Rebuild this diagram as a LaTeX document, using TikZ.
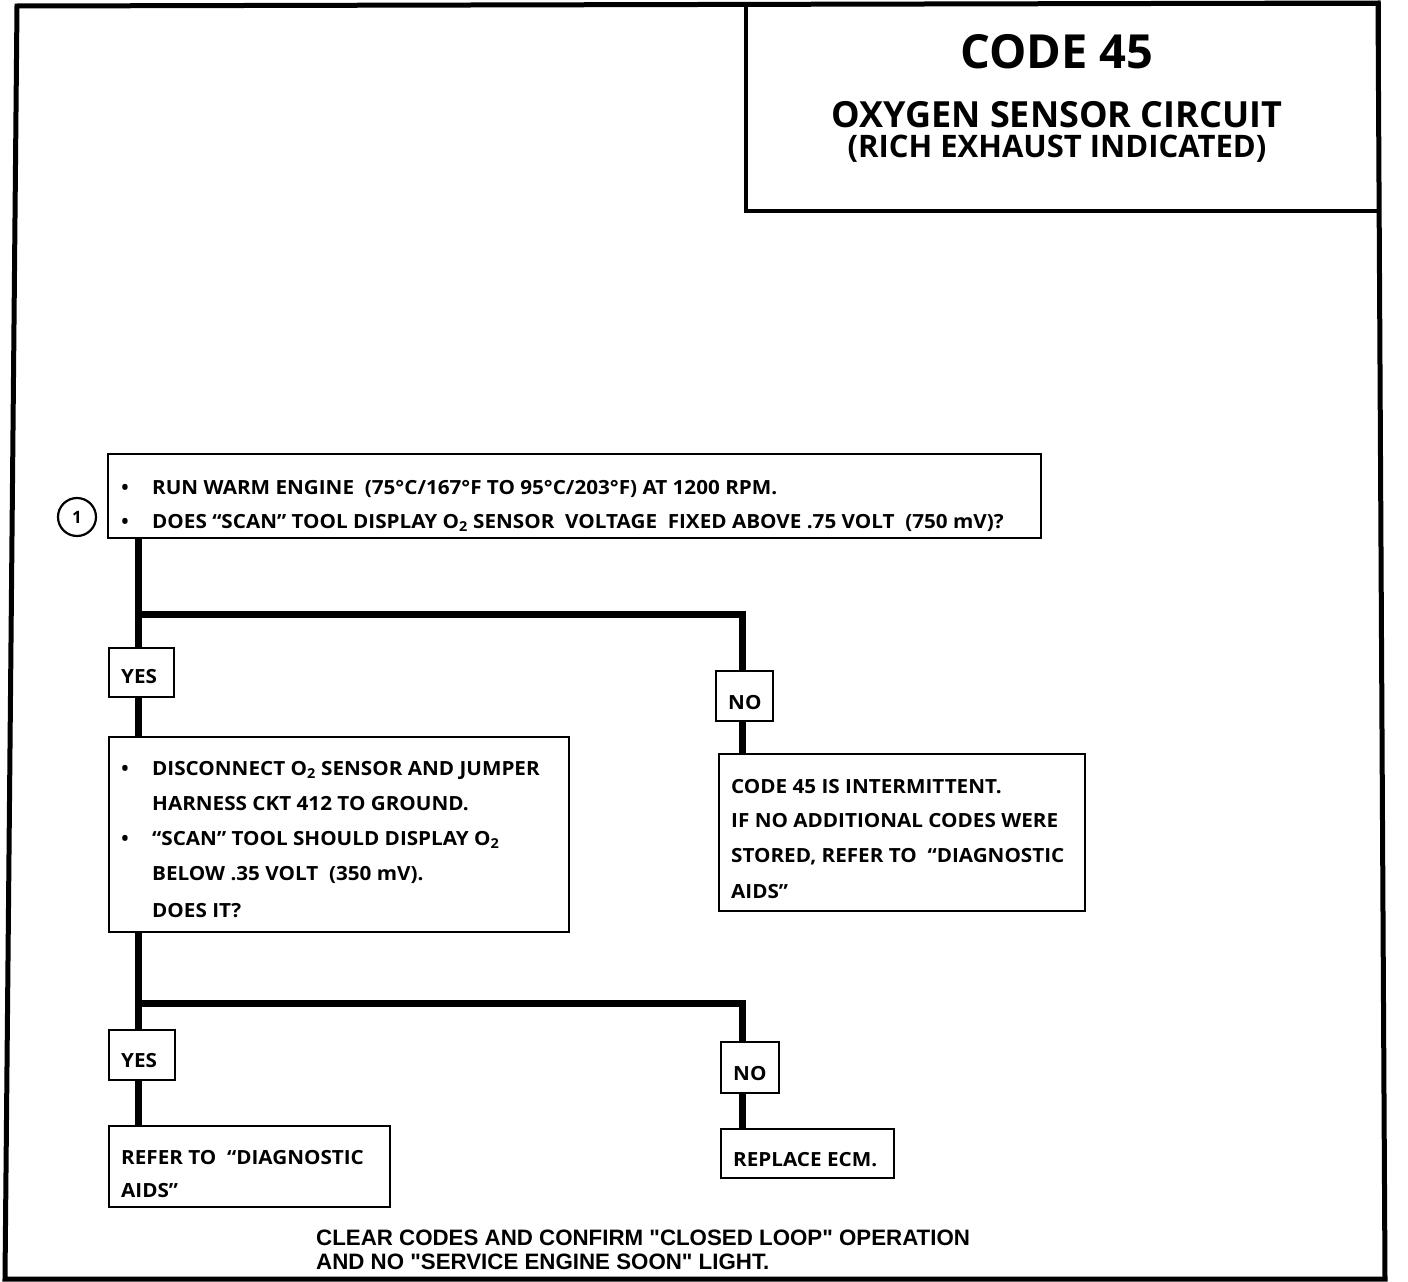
\documentclass[tikz,border=0pt]{standalone}
\usepackage{fontspec}
\newfontfamily\bx{Open Sans}
\newfontfamily\bxw{Open Sans}[FakeStretch=1.06]
\font\footfont="Liberation Sans/B" at 22.3pt
\begin{document}
\begin{tikzpicture}[x=1pt,y=-1pt,
  frame/.style={line width=5pt,line join=miter},
  box/.style={draw,line width=2.6pt,inner sep=0pt,outer sep=0pt,anchor=north west},
  conn/.style={line width=7pt,line join=miter},
  txt/.style={font={\bxw\bfseries\fontsize{19.5}{22}\selectfont},inner sep=0pt,anchor=base west},
  bul/.style={font={\bx\bfseries\fontsize{19.5}{22}\selectfont},inner sep=0pt,anchor=base},
  ttl/.style={font={\bx\bfseries\fontsize{#1}{#1}\selectfont},inner sep=0pt,anchor=base},
  foot/.style={font=\footfont,inner sep=0pt,anchor=base west}]
\useasboundingbox (0,0) rectangle (1408,1282);
% outer frame
\draw[frame] (17,6) -- (1378,3) -- (1385,1279) -- (5,1279) -- cycle;
% title box
\node[box,line width=3.5pt,minimum width=633,minimum height=207] (titlebox) at (746,4) {};
\node[ttl=47] (t1) at (1057,68) {CODE 45};
\node[ttl=36] (t2) at (1057,127) {OXYGEN SENSOR CIRCUIT};
\node[ttl=31] (t3) at (1057,157) {(RICH EXHAUST INDICATED)};
% reference points for connector lines
\coordinate (tr) at (138,0);
\coordinate (rt) at (742,0);
\coordinate (br1) at (0,614);
\coordinate (br2) at (0,1003);
% step circle
\node[draw,circle,line width=2.2pt,minimum size=38,inner sep=0pt,font={\bx\bfseries\fontsize{17}{17}\selectfont}] (c1) at (77,517) {1};
% boxes
\node[box,minimum width=933,minimum height=84] (b1) at (108,454) {};
\node[box,minimum width=65,minimum height=49] (yes1) at (109,648) {};
\node[box,minimum width=57,minimum height=50] (no1) at (716,671) {};
\node[box,minimum width=460,minimum height=195] (b2) at (109,737) {};
\node[box,minimum width=366,minimum height=157] (b3) at (719,754) {};
\node[box,minimum width=66,minimum height=50] (yes2) at (109,1030) {};
\node[box,minimum width=58,minimum height=51] (no2) at (721,1042) {};
\node[box,minimum width=281,minimum height=81] (b4) at (109,1126) {};
\node[box,minimum width=173,minimum height=49] (b5) at (721,1129) {};
% connectors
\draw[conn] (b1.south -| tr) -- (yes1.north -| tr);
\draw[conn] (tr |- br1) -- (br1 -| rt) -- (no1.north -| rt);
\draw[conn] (yes1.south -| tr) -- (b2.north -| tr);
\draw[conn] (no1.south -| rt) -- (b3.north -| rt);
\draw[conn] (b2.south -| tr) -- (yes2.north -| tr);
\draw[conn] (tr |- br2) -- (br2 -| rt) -- (no2.north -| rt);
\draw[conn] (yes2.south -| tr) -- (b4.north -| tr);
\draw[conn] (no2.south -| rt) -- (b5.north -| rt);
% box 1 text
\node[bul] (b1d1) at (125,494) {•};
\node[txt] (b1l1) at (152,494) {RUN WARM ENGINE~~(75°C/167°F TO 95°C/203°F) AT 1200 RPM.};
\node[bul] (b1d2) at (125,528) {•};
\node[txt] (b1l2) at (152,528) {DOES “SCAN” TOOL DISPLAY O\textsubscript{2} SENSOR~~VOLTAGE~~FIXED ABOVE .75 VOLT~~(750 mV)?};
% yes / no labels
\node[txt] (y1t) at (121,683) {YES};
\node[txt] (n1t) at (728,709) {NO};
\node[txt] (y2t) at (121,1067) {YES};
\node[txt] (n2t) at (733,1080) {NO};
% box 2 text
\node[bul] (b2d1) at (125,775) {•};
\node[txt] (b2l1) at (152,775) {DISCONNECT O\textsubscript{2} SENSOR AND JUMPER};
\node[txt] (b2l2) at (152,810) {HARNESS CKT 412 TO GROUND.};
\node[bul] (b2d2) at (125,845) {•};
\node[txt] (b2l3) at (152,845) {“SCAN” TOOL SHOULD DISPLAY O\textsubscript{2}};
\node[txt] (b2l4) at (152,880) {BELOW .35 VOLT~~(350 mV).};
\node[txt] (b2l5) at (152,917) {DOES IT?};
% box 3 text
\node[txt] (b3l1) at (731,793) {CODE 45 IS INTERMITTENT.};
\node[txt] (b3l2) at (731,827) {IF NO ADDITIONAL CODES WERE};
\node[txt] (b3l3) at (731,862) {STORED, REFER TO~~“DIAGNOSTIC};
\node[txt] (b3l4) at (731,898) {AIDS”};
% box 4 / 5 text
\node[txt] (b4l1) at (121,1164) {REFER TO~~“DIAGNOSTIC};
\node[txt] (b4l2) at (121,1197) {AIDS”};
\node[txt] (b5l1) at (733,1166) {REPLACE ECM.};
% footer
\node[foot] (f1) at (316,1245) {CLEAR CODES AND CONFIRM "CLOSED LOOP" OPERATION};
\node[foot] (f2) at (316,1269) {AND NO "SERVICE ENGINE SOON" LIGHT.};
\end{tikzpicture}
\end{document}
